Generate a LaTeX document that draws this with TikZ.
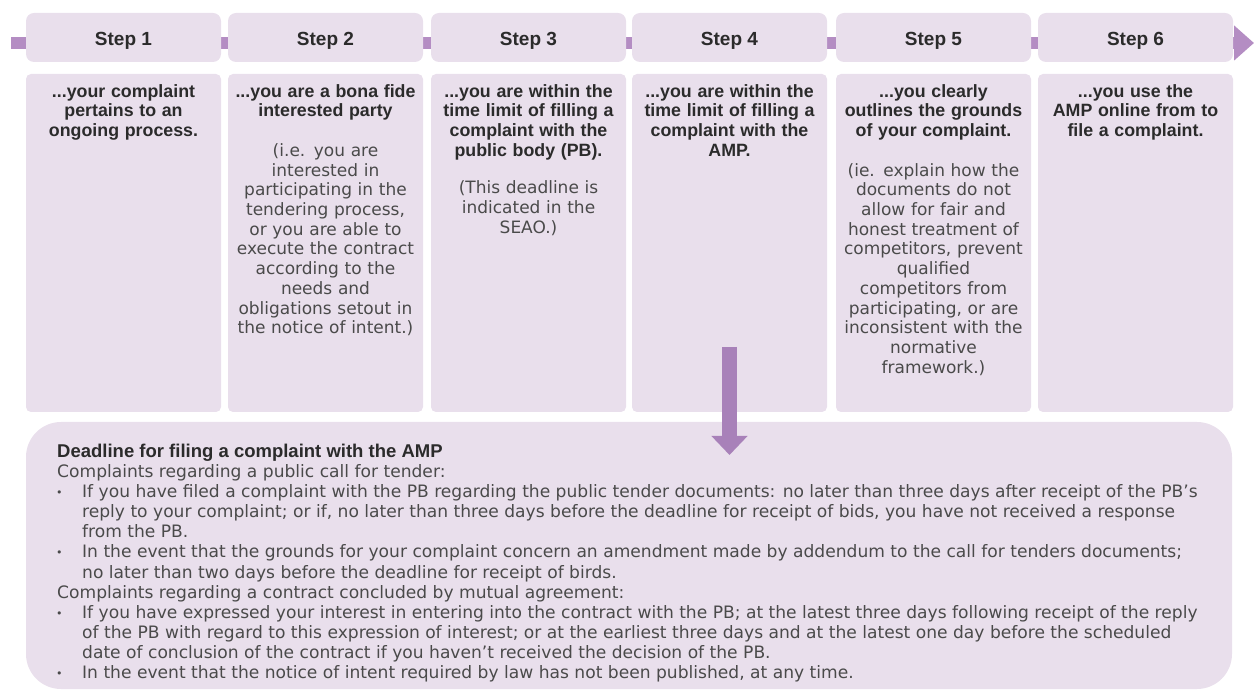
\documentclass[tikz,border=0pt]{standalone}
\usepackage{fontspec}
\setmainfont{DejaVu Sans}
\newfontfamily\libsans{Liberation Sans}
\usetikzlibrary{arrows.meta}
\definecolor{boxfill}{HTML}{E9DFEC}
\definecolor{barpurple}{HTML}{B48DC3}
\definecolor{arrpurple}{HTML}{A881B9}
\definecolor{headtxt}{HTML}{2B2B2B}
\definecolor{bodytxt}{HTML}{4A4A4A}
\newcommand{\hfb}{\libsans\bfseries\fontsize{17.8}{19.7}\selectfont\color{headtxt}}
\newcommand{\bdy}{\normalfont\fontsize{17}{19.7}\selectfont\color{bodytxt}}
\begin{document}
\begin{tikzpicture}[x=1pt,y=-1pt,
  hdrbox/.style={fill=boxfill, rounded corners=8pt, minimum width=195pt, minimum height=49pt, inner sep=0pt, text height=17pt, text depth=0pt, font=\libsans\bfseries\fontsize{19}{20}\selectfont, text=headtxt},
  cbox/.style={fill=boxfill, rounded corners=5pt, minimum width=195pt, minimum height=338pt, inner sep=0pt},
  stxt/.style={text width=193pt, align=center, inner sep=0pt, anchor=north, font=\fontsize{17}{19.7}\selectfont},
  dlbox/.style={fill=boxfill, rounded corners=35pt, minimum width=1206pt, minimum height=267pt, inner sep=0pt},
  btitle/.style={anchor=base west, inner sep=0pt, font=\libsans\bfseries\fontsize{18.5}{20}\selectfont, text=headtxt},
  bline/.style={anchor=base west, inner sep=0pt, font=\fontsize{17.1}{20}\selectfont, text=bodytxt},
  bullet/.style={anchor=base west, inner sep=0pt, font=\fontsize{11}{20}\selectfont, text=bodytxt}
]
\useasboundingbox (0,0) rectangle (1254,692);

% timeline bar
\coordinate (tlstart) at (11,43);
\coordinate (tlend) at (1254,43);
\draw[barpurple, line width=12pt, -{Triangle[width=34pt,length=20pt]}] (tlstart) -- (tlend);

% header boxes
\node[hdrbox] (h1) at (123.5,37.5) {Step 1};
\node[hdrbox] (h2) at (325.5,37.5) {Step 2};
\node[hdrbox] (h3) at (528.5,37.5) {Step 3};
\node[hdrbox] (h4) at (729.5,37.5) {Step 4};
\node[hdrbox] (h5) at (933.5,37.5) {Step 5};
\node[hdrbox] (h6) at (1135.5,37.5) {Step 6};

% content boxes
\node[cbox] (c1) at (123.5,243) {};
\node[cbox] (c2) at (325.5,243) {};
\node[cbox] (c3) at (528.5,243) {};
\node[cbox] (c4) at (729.5,243) {};
\node[cbox] (c5) at (933.5,243) {};
\node[cbox] (c6) at (1135.5,243) {};

% bottom box
\node[dlbox] (dl) at (629,555.5) {};

% arrow from step 4 into the deadline box
\coordinate (a4top) at (729.5,347);
\coordinate (a4tip) at (729.5,455);
\draw[arrpurple, line width=15pt, -{Triangle[width=35pt,length=19pt]}] (a4top) -- (a4tip);

% step texts
\node[stxt] (t1) at (123.5,84) {\hfb ...your complaint\\pertains to an\\ongoing process.\par};
\node[stxt] (t2) at (325.5,84) {\hfb ...you are a bona fide\\interested party\\[20pt]\bdy (i.e. you are\\interested in\\participating in the\\tendering process,\\or you are able to\\execute the contract\\according to the\\needs and\\obligations setout in\\the notice of intent.)\par};
\node[stxt] (t3) at (528.5,84) {\hfb ...you are within the\\time limit of filling a\\complaint with the\\public body (PB).\\[18pt]\bdy (This deadline is\\indicated in the\\SEAO.)\par};
\node[stxt] (t4) at (729.5,84) {\hfb ...you are within the\\time limit of filling a\\complaint with the\\AMP.\par};
\node[stxt] (t5) at (933.5,84) {\hfb ...you clearly\\outlines the grounds\\of your complaint.\\[20pt]\bdy (ie. explain how the\\documents do not\\allow for fair and\\honest treatment of\\competitors, prevent\\qualified\\competitors from\\participating, or are\\inconsistent with the\\normative\\framework.)\par};
\node[stxt] (t6) at (1135.5,84) {\hfb ...you use the\\AMP online from to\\file a complaint.\par};

% deadline text
\node[btitle] (l1) at (57,458) {Deadline for filing a complaint with the AMP};
\node[bline] (l2) at (57,478) {Complaints regarding a public call for tender:};
\node[bullet] (b1) at (56,497) {•};
\node[bline] (l3) at (82,498) {If you have filed a complaint with the PB regarding the public tender documents: no later than three days after receipt of the PB’s};
\node[bline] (l4) at (82,518) {reply to your complaint; or if, no later than three days before the deadline for receipt of bids, you have not received a response};
\node[bline] (l5) at (82,538) {from the PB.};
\node[bullet] (b2) at (56,557) {•};
\node[bline] (l6) at (82,558) {In the event that the grounds for your complaint concern an amendment made by addendum to the call for tenders documents;};
\node[bline] (l7) at (82,578) {no later than two days before the deadline for receipt of birds.};
\node[bline] (l8) at (57,598) {Complaints regarding a contract concluded by mutual agreement:};
\node[bullet] (b3) at (56,617) {•};
\node[bline] (l9) at (82,618) {If you have expressed your interest in entering into the contract with the PB; at the latest three days following receipt of the reply};
\node[bline] (l10) at (82,638) {of the PB with regard to this expression of interest; or at the earliest three days and at the latest one day before the scheduled};
\node[bline] (l11) at (82,658) {date of conclusion of the contract if you haven’t received the decision of the PB.};
\node[bullet] (b4) at (56,677) {•};
\node[bline] (l12) at (82,678) {In the event that the notice of intent required by law has not been published, at any time.};
\end{tikzpicture}
\end{document}
